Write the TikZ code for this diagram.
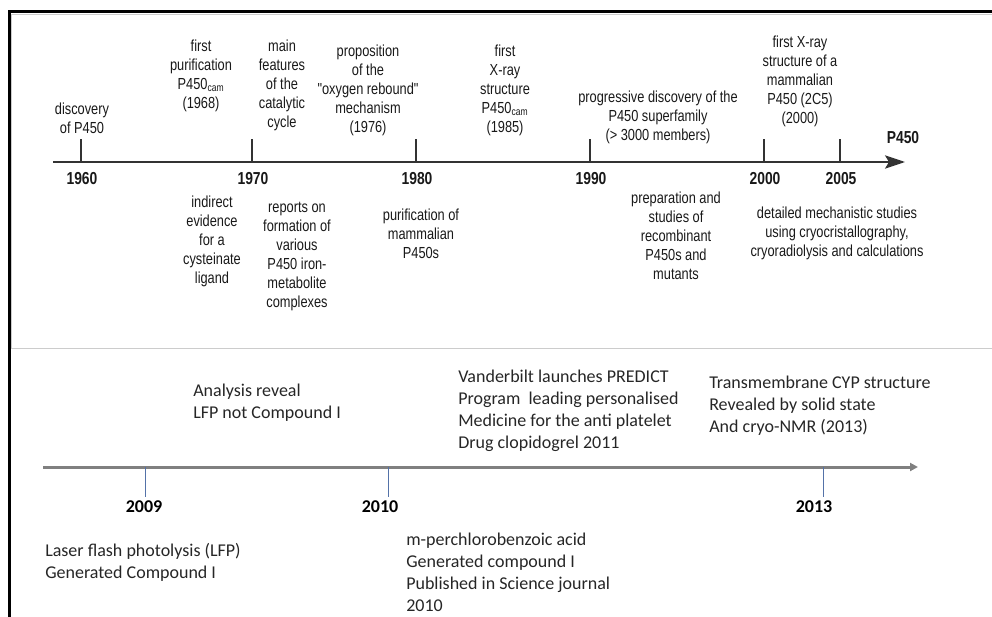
\documentclass[tikz,border=0pt]{standalone}
\usepackage{fontspec}
\newfontfamily\arialfont{Liberation Sans}[FakeStretch=0.8]
\newfontfamily\calibrifont{Carlito}
\usepackage{xcolor}
\usepackage{tikz}
\usetikzlibrary{positioning,arrows.meta}
\definecolor{tickblue}{RGB}{84,114,168}

\begin{document}
\begin{tikzpicture}[x=0.75pt, y=-0.75pt,
event/.style={align=center, inner sep=0pt, text=black!90, font=\arialfont\fontsize{12pt}{14.25pt}\selectfont},
year/.style={inner sep=0pt, text=black!90, font=\arialfont\bfseries\fontsize{13pt}{15pt}\selectfont},
note/.style={align=left, inner sep=0pt, anchor=west, text=black!85, font=\calibrifont\fontsize{13.5pt}{16.5pt}\selectfont},
newyear/.style={inner sep=0pt, text=black, font=\calibrifont\bfseries\fontsize{13.5pt}{16pt}\selectfont},
oldaxis/.style={draw=black!80, line width=1.5pt},
oldtick/.style={draw=black!80, line width=0.8pt},
newaxis/.style={draw=black!50, line width=2.25pt},
newtick/.style={draw=tickblue, line width=0.7pt}
]
\useasboundingbox (0,0) rectangle (992,617);

% frame and panels
\draw[black!20, line width=0.75pt] (992,15) -- (11,15) -- (11,348) -- (992,348);
\draw[black, line width=2.25pt] (9,617) -- (9,12) -- (992,12);

% top timeline
\coordinate (axis_start) at (53,162);
\coordinate (axis_end) at (905,162);
\draw[oldaxis, -{Stealth[length=15pt, width=10pt, inset=3pt]}] (axis_start) -- (axis_end);
\node[year](p450) at (903,138){P450};
\foreach \yr/\xx in {1960/81, 1970/252, 1980/416, 1990/590, 2000/764, 2005/840}{
  \coordinate (t\yr) at (\xx,162);
  \draw[oldtick] (t\yr) -- ++(0,-23);
  \node[year](y\yr)[below of = t\yr, node distance=12.75pt, xshift=0.75pt]{\yr};
}

\node[event](disc_p450) at (82,118.5){discovery\\of P450};
\node[event](first_purif) at (201,75.5){first\\purification\\P450\textsubscript{cam}\\(1968)};
\node[event](cycle_feat) at (282,85){main\\features\\of the\\catalytic\\cycle};
\node[event](oxy_rebound) at (368,90){proposition\\of the\\"oxygen rebound"\\mechanism\\(1976)};
\node[event](xray_cam) at (505,90){first\\X-ray\\structure\\P450\textsubscript{cam}\\(1985)};
\node[event](superfamily) at (658,117){progressive discovery of the\\P450 superfamily\\(> 3000 members)};
\node[event](xray_mammal) at (800,81){first X-ray\\structure of a\\mammalian\\P450 (2C5)\\(2000)};

\node[event](cys_ligand) at (212,241){indirect\\evidence\\for a\\cysteinate\\ligand};
\node[event](iron_complex) at (297,256){reports on\\formation of\\various\\P450 iron-\\metabolite\\complexes};
\node[event](purif_mammal) at (421,234){purification of\\mammalian\\P450s};
\node[event](recomb) at (676,235.5){preparation and\\studies of\\recombinant\\P450s and\\mutants};
\node[event](mech_studies) at (837,233){detailed mechanistic studies\\using cryocristallography,\\cryoradiolysis and calculations};

% bottom timeline
\coordinate (new_start) at (43,467);
\coordinate (new_end) at (918,467);
\draw[newaxis, -{Triangle[length=6pt, width=6pt]}] (new_start) -- (new_end);
\foreach \yr/\xx/\lx in {2009/145/144, 2010/388/380, 2013/823/814}{
  \coordinate (n\yr) at (\xx,467);
  \draw[newtick] (n\yr) -- ++(0,30);
  \node[newyear](ny\yr) at (\lx,507){\yr};
}

\node[note](lfp_analysis) at (193,403){Analysis reveal\\LFP not Compound I};
\node[note](predict) at (458,411){Vanderbilt launches PREDICT\\Program\ \ leading personalised\\Medicine for the anti platelet\\Drug clopidogrel 2011};
\node[note](cyp_nmr) at (709,406){Transmembrane CYP structure\\Revealed by solid state\\And cryo-NMR (2013)};
\node[note](lfp_gen) at (45,562.5){Laser flash photolysis (LFP)\\Generated Compound I};
\node[note](mcpba) at (406,572.5){m-perchlorobenzoic acid\\Generated compound I\\Published in Science journal\\2010};

\end{tikzpicture}
\end{document}
